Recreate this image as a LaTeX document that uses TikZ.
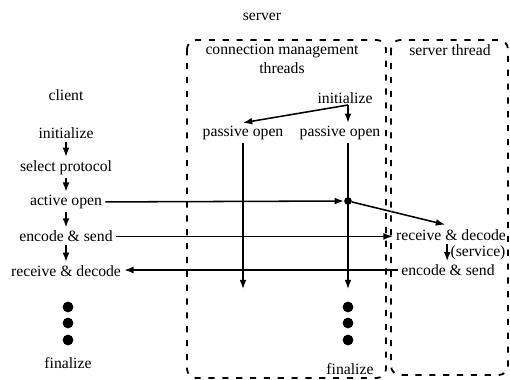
\documentclass[tikz,border=0pt]{standalone}
\usepackage{fontspec}
\setmainfont{Liberation Serif}
\usetikzlibrary{positioning,arrows.meta}

\begin{document}
\begin{tikzpicture}[
    x=0.65pt, y=-0.65pt,
    node distance=22.4pt,
    txt/.style={
        font=\fontsize{10.2}{12}\selectfont,
        inner sep=2pt,
        align=center
    },
    arrow/.style={
        -{Latex[length=6pt,width=4.5pt]},
        line width=1pt
    },
    blob/.style={
        circle,
        fill,
        inner sep=0pt,
        minimum size=7pt
    },
    threadbox/.style={
        draw,
        line width=1.2pt,
        dash pattern=on 4pt off 5pt,
        rounded corners=6pt
    }
]
\useasboundingbox (0,0) rectangle (510,379);

% Regions
\draw[threadbox] (187,40) rectangle (386,378);
\draw[threadbox] (391,40) rectangle (508,375);

% Headings
\node (server)  [txt] at (262,17)  {server};
\node (cmt)     [txt] at (282,59)  {connection management\\threads};
\node (sthread) [txt] at (450,50)  {server thread};
\node (client)  [txt] at (66,95)   {client};

% Client nodes
\node (cinit)  [txt] at (66,133)     {initialize};
\node (select) [txt, below of=cinit]  {select protocol};
\node (active) [txt, below of=select] {active open};
\node (cenc)   [txt, below of=active] {encode \& send};
\node (crecv)  [txt, below of=cenc]   {receive \& decode};
\node (cfin)   [txt] at (68,363)     {finalize};

% Server nodes
\node (sinit) [txt] at (345,98)  {initialize};
\node (pop1)  [txt] at (243,133) {passive open};
\node (pop2)  [txt] at (340,133) {passive open};
\node (srecv) [txt] at (451,235) {receive \& decode};
\node (svc)   [txt] at (478,253) {(service)};
\node (senc)  [txt] at (448,270) {encode \& send};
\node (sfin)  [txt] at (350,369) {finalize};

% Dots
\foreach \y [count=\i] in {307,323,340} {
    \node (cdot\i) [blob] at (68,\y)  {};
    \node (sdot\i) [blob] at (348,\y) {};
}
\node (join) [blob, minimum size=5pt] at (348,201) {};
\coordinate (fork) at (348,105);
\coordinate (end1) at (243,289);
\coordinate (end2) at (348,289);

% Arrows
\draw[arrow] (cinit) -- (select);
\draw[arrow] (select) -- (active);
\draw[arrow] (active) -- (cenc);
\draw[arrow] (cenc) -- (crecv);
\draw[arrow] (fork) -- (pop1.north);
\draw[arrow] (fork) -- (fork |- pop2.north);
\draw[arrow] (pop1.south) -- (end1);
\draw[arrow] (pop2.south -| end2) -- (end2);
\draw[arrow] (active.east) -- (join);
\draw[arrow, shorten >=4pt] (join) -- (srecv.north);
\draw[arrow] (cenc.east) -- (cenc.east -| srecv.west);
\draw[arrow] (senc.west) -- (senc.west -| crecv.east);
\draw[arrow] (srecv.south -| svc.west) -- (senc.north -| svc.west);

\end{tikzpicture}
\end{document}
